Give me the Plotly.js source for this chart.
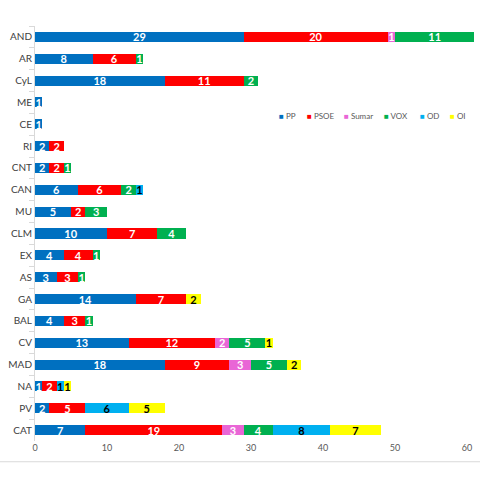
<!DOCTYPE html>
<html>
<head>
<meta charset="utf-8">
<script src="https://cdn.plot.ly/plotly-3.0.1.min.js"></script>
<style>html,body{margin:0;padding:0;background:#fff;}#chart{width:480px;height:480px;}</style>
</head>
<body>
<div id="chart"></div>
<script>
var regions = ["AND","AR","CyL","ME","CE","RI","CNT","CAN","MU","CLM","EX","AS","GA","BAL","CV","MAD","NA","PV","CAT"];
var pp    = [29, 8, 18, 1, 1, 2, 2, 6, 5, 10, 4, 3, 14, 4, 13, 18, 1, 2, 7];
var psoe  = [20, 6, 11, 0, 0, 2, 2, 6, 2, 7, 4, 3, 7, 3, 12, 9, 2, 5, 19];
var sumar = [1, 0, 0, 0, 0, 0, 0, 0, 0, 0, 0, 0, 0, 0, 2, 3, 0, 0, 3];
var vox   = [11, 1, 2, 0, 0, 0, 1, 2, 3, 4, 1, 1, 0, 1, 5, 5, 0, 0, 4];
var od    = [0, 0, 0, 0, 0, 0, 0, 1, 0, 0, 0, 0, 0, 0, 0, 0, 1, 6, 8];
var oi    = [0, 0, 0, 0, 0, 0, 0, 0, 0, 0, 0, 0, 2, 0, 1, 2, 1, 5, 7];
var xTicks = [0, 10, 20, 30, 40, 50, 60];

var series = [
  {name: "PP", vals: pp, color: "#0070C0", txt: "#FFFFFF"},
  {name: "PSOE", vals: psoe, color: "#FF0000", txt: "#FFFFFF"},
  {name: "Sumar", vals: sumar, color: "#E966D6", txt: "#FFFFFF"},
  {name: "VOX", vals: vox, color: "#00B050", txt: "#FFFFFF"},
  {name: "OD", vals: od, color: "#00B0F0", txt: "#000000"},
  {name: "OI", vals: oi, color: "#FFFF00", txt: "#000000"}
];

var FONT = "Lato, 'Liberation Sans', sans-serif";

var traces = series.map(function (s) {
  return {
    type: "bar",
    orientation: "h",
    name: s.name,
    y: regions,
    x: s.vals,
    marker: {color: s.color},
    text: s.vals.map(function (v) { return v > 0 ? String(v) : ""; }),
    textposition: "inside",
    insidetextanchor: "middle",
    textangle: 0,
    constraintext: "none",
    cliponaxis: false,
    textfont: {family: FONT, size: 11, color: s.txt, weight: "bold"},
    hoverinfo: "none",
    showlegend: false
  };
});

// legend entries (positions are layout only)
var legendX = [0.55, 0.614, 0.698, 0.789, 0.871, 0.939];
var legendAnn = series.map(function (s, i) {
  return {
    xref: "paper", yref: "paper",
    x: legendX[i], y: 0.783,
    xanchor: "left", yanchor: "middle",
    showarrow: false,
    text: '<span style="color:' + s.color + '">\u25A0</span> ' + s.name,
    font: {family: FONT, size: 8, color: "#595959"}
  };
});

var layout = {
  width: 480,
  height: 480,
  margin: {l: 35, r: 5, t: 26, b: 39},
  barmode: "stack",
  bargap: 0.54,
  paper_bgcolor: "#FFFFFF",
  plot_bgcolor: "#FFFFFF",
  font: {family: FONT, color: "#595959"},
  showlegend: false,
  xaxis: {
    range: [0, 61.1],
    tickvals: xTicks,
    showgrid: false,
    zeroline: false,
    showline: false,
    ticks: "",
    tickfont: {size: 9, color: "#595959"}
  },
  yaxis: {
    type: "category",
    categoryorder: "array",
    categoryarray: regions,
    autorange: "reversed",
    showgrid: false,
    zeroline: false,
    showline: true,
    linecolor: "#D9D9D9",
    linewidth: 1,
    ticks: "outside",
    tickson: "boundaries",
    ticklen: 5,
    tickcolor: "#D9D9D9",
    tickfont: {size: 10, color: "#404040"}
  },
  annotations: legendAnn,
  shapes: [{
    type: "line", xref: "paper", yref: "paper",
    x0: -0.09, x1: 1.02, y0: -0.05, y1: -0.05,
    line: {color: "#D9D9D9", width: 1}
  }]
};

Plotly.newPlot("chart", traces, layout, {displayModeBar: false, staticPlot: true});
</script>
</body>
</html>
